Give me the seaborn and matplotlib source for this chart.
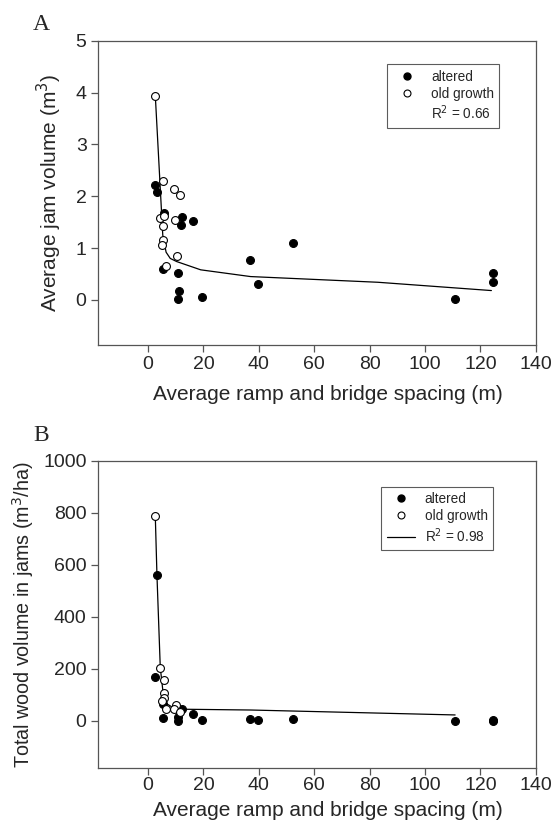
import numpy as np
import pandas as pd
import matplotlib
matplotlib.use("Agg")
import matplotlib.pyplot as plt
import seaborn as sns
from matplotlib.lines import Line2D

# panel A: average jam volume
a_alt_x = [2.5, 3.2, 5.8, 12.4, 11.8, 16.1, 5.5, 10.8, 11.2, 10.8, 19.5, 36.8, 39.8, 52.3, 110.9, 124.7, 124.7]
a_alt_y = [2.22, 2.09, 1.68, 1.60, 1.44, 1.53, 0.59, 0.51, 0.18, 0.01, 0.06, 0.77, 0.31, 1.09, 0.01, 0.51, 0.35]
a_old_x = [2.6, 5.5, 9.4, 11.4, 4.4, 5.9, 9.6, 5.5, 5.3, 5.0, 10.3, 6.6]
a_old_y = [3.94, 2.29, 2.14, 2.02, 1.58, 1.62, 1.55, 1.42, 1.15, 1.06, 0.85, 0.65]
a_fit_x = [2.6, 5.3, 6.5, 8.0, 10.3, 19.0, 37.0, 83.0, 124.0]
a_fit_y = [3.94, 1.25, 0.92, 0.80, 0.74, 0.58, 0.45, 0.34, 0.18]

# panel B: total wood volume in jams
b_alt_x = [3.2, 2.5, 5.4, 5.5, 12.1, 10.8, 10.8, 16.1, 19.5, 36.8, 39.8, 52.3, 110.9, 124.7, 124.7]
b_alt_y = [560, 170, 65, 10, 45, 14, 1, 27, 3, 9, 3, 6, 1, 1, 2]
b_old_x = [2.6, 4.3, 5.6, 5.6, 5.8, 4.9, 6.5, 10.2, 9.5, 11.4]
b_old_y = [788, 205, 158, 109, 88, 78, 47, 62, 47, 35]
b_fit_x = [2.6, 3.2, 4.4, 5.4, 6.9, 9.5, 12.5, 37.0, 110.9]
b_fit_y = [788, 560, 205, 110, 65, 48, 45, 42, 23]

x_ticks = [0, 20, 40, 60, 80, 100, 120, 140]

sns.set_style("ticks")
plt.rcParams['font.family'] = ['Liberation Sans', 'DejaVu Sans']

fig = plt.figure(figsize=(5.59, 8.21), dpi=100)
ax1 = fig.add_axes([0.1748, 0.5798, 0.7835, 0.3706])
ax2 = fig.add_axes([0.1748, 0.0649, 0.7835, 0.3736])


def draw(ax, alt_x, alt_y, old_x, old_y, fit_x, fit_y):
    sns.lineplot(x=fit_x, y=fit_y, ax=ax, color="black", lw=0.9, sort=False, zorder=2)
    sns.scatterplot(x=alt_x, y=alt_y, ax=ax, color="black", edgecolor="black",
                    s=32, linewidth=0.8, zorder=3)
    sns.scatterplot(x=old_x, y=old_y, ax=ax, facecolor="white", edgecolor="black",
                    s=32, linewidth=0.8, zorder=3)
    ax.set_xlim(-18.2, 140)
    ax.set_xticks(x_ticks)
    ax.tick_params(labelsize=14, length=5, width=0.9, color="#555555", pad=3)
    for sp in ax.spines.values():
        sp.set_linewidth(0.9)
        sp.set_color("#555555")
    ax.set_xlabel("Average ramp and bridge spacing (m)", fontsize=15, labelpad=6)
    ax.xaxis.set_label_coords(0.525, -0.13)


draw(ax1, a_alt_x, a_alt_y, a_old_x, a_old_y, a_fit_x, a_fit_y)
ax1.set_ylim(-0.87, 5)
ax1.set_yticks([0, 1, 2, 3, 4, 5])
ax1.set_ylabel("Average jam volume (m$^3$)", fontsize=15, labelpad=8)

draw(ax2, b_alt_x, b_alt_y, b_old_x, b_old_y, b_fit_x, b_fit_y)
ax2.set_ylim(-180, 1000)
ax2.set_yticks([0, 200, 400, 600, 800, 1000])
ax2.set_ylabel("Total wood volume in jams (m$^3$/ha)", fontsize=14.2, labelpad=5)
ax2.tick_params(axis="x", pad=2)
ax2.xaxis.set_label_coords(0.525, -0.107)

filled = Line2D([], [], marker="o", ls="none", color="black", markersize=5)
hollow = Line2D([], [], marker="o", ls="none", markerfacecolor="white",
                markeredgecolor="black", markersize=5, markeredgewidth=0.8)
blank = Line2D([], [], ls="none")
fitline = Line2D([], [], color="black", lw=0.9)

for ax, last, lab, anchor in [(ax1, blank, "R$^2$ = 0.66", (0.917, 0.922)),
                              (ax2, fitline, "R$^2$ = 0.98", (0.903, 0.916))]:
    leg = ax.legend([filled, hollow, last], ["altered", "old growth", lab],
                    loc="upper right", bbox_to_anchor=anchor, borderaxespad=0,
                    fontsize=9.8, frameon=True, fancybox=False, edgecolor="#333333",
                    handlelength=2.1, handletextpad=0.7, borderpad=0.4,
                    labelspacing=0.22)
    leg.get_frame().set_linewidth(0.8)

fig.text(0.059, 0.9635, "A", fontsize=17, family="Liberation Serif")
fig.text(0.059, 0.463, "B", fontsize=17, family="Liberation Serif")

fig.savefig("out.png", dpi=100)
